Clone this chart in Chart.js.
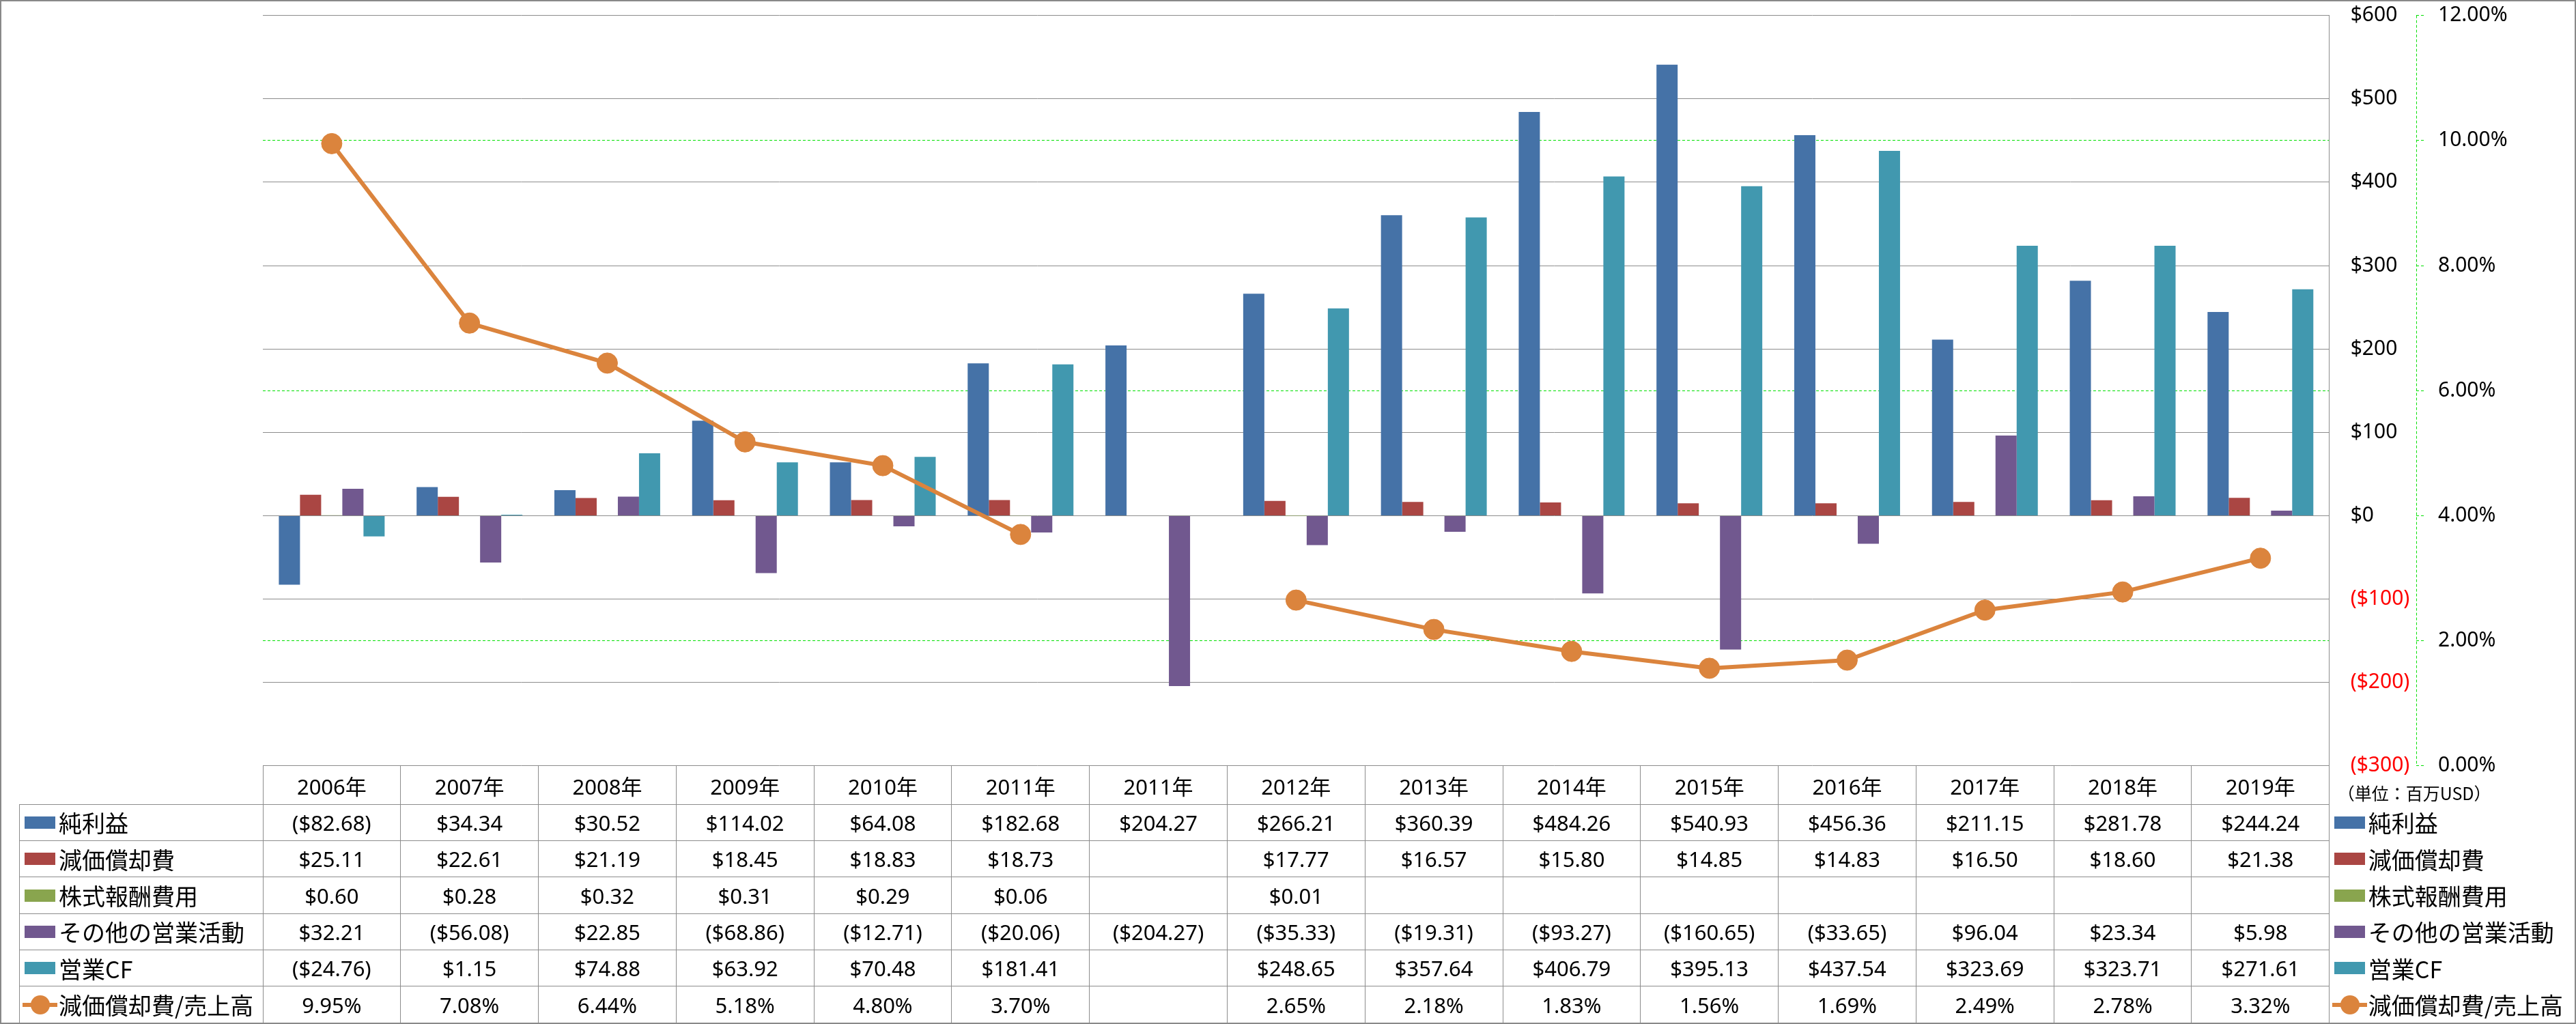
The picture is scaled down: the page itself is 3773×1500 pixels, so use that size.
<!DOCTYPE html>
<html>
<head>
<meta charset="utf-8">
<script src="https://cdn.jsdelivr.net/npm/chart.js@4.4.1/dist/chart.umd.min.js"></script>
<style>
html,body{margin:0;padding:0;background:#fff;}
#wrap{position:relative;width:3773px;height:1500px;overflow:hidden;background:#fff;}
#c{position:absolute;left:0;top:0;}
#overlay{position:absolute;left:0;top:0;width:3773px;height:1500px;pointer-events:none;}
.hl{position:absolute;height:1px;background:#8c8c8c;}
.vl{position:absolute;width:1px;background:#8c8c8c;}
.cell{position:absolute;display:flex;align-items:center;justify-content:center;font-family:'Noto Sans','Noto Sans CJK JP',sans-serif;font-size:31px;color:#000;white-space:nowrap;}
.leg{position:absolute;display:flex;align-items:center;font-family:'Noto Sans CJK JP',sans-serif;font-size:34px;color:#000;white-space:nowrap;}
.sw{position:absolute;}
#frame{position:absolute;left:0;top:0;width:3773px;height:1500px;box-sizing:border-box;border:2px solid #898989;pointer-events:none;}
</style>
</head>
<body>
<div id="wrap">
  <canvas id="c" width="3773" height="1500"></canvas>
  <div id="overlay"></div>
  <div id="frame"></div>
</div>
<script>
// ---- data ----
const categories = ['2006年','2007年','2008年','2009年','2010年','2011年','2011年','2012年','2013年','2014年','2015年','2016年','2017年','2018年','2019年'];
const netIncome    = [-82.68, 34.34, 30.52, 114.02, 64.08, 182.68, 204.27, 266.21, 360.39, 484.26, 540.93, 456.36, 211.15, 281.78, 244.24];
const depreciation = [25.11, 22.61, 21.19, 18.45, 18.83, 18.73, null, 17.77, 16.57, 15.80, 14.85, 14.83, 16.50, 18.60, 21.38];
const stockComp    = [0.60, 0.28, 0.32, 0.31, 0.29, 0.06, null, 0.01, null, null, null, null, null, null, null];
const otherOps     = [32.21, -56.08, 22.85, -68.86, -12.71, -20.06, -204.27, -35.33, -19.31, -93.27, -160.65, -33.65, 96.04, 23.34, 5.98];
const operatingCF  = [-24.76, 1.15, 74.88, 63.92, 70.48, 181.41, null, 248.65, 357.64, 406.79, 395.13, 437.54, 323.69, 323.71, 271.61];
const deprRatio    = [9.95, 7.08, 6.44, 5.18, 4.80, 3.70, null, 2.65, 2.18, 1.83, 1.56, 1.69, 2.49, 2.78, 3.32];

const seriesNames = ['純利益','減価償却費','株式報酬費用','その他の営業活動','営業CF','減価償却費/売上高'];
const unitLabel = '（単位：百万USD）';
const moneyAxis = {min:-300, max:600, step:100};
const pctAxis = {min:0, max:12, step:2};

// ---- styles ----
const C_BLUE='#4572A7', C_RED='#AA4643', C_GREEN='#89A54E', C_PURPLE='#71588F', C_TEAL='#4198AF', C_ORANGE='#DB843D';
const C_GRID='#8c8c8c', C_LIME='#00e000';

function fmtMoney(v){ return v<0 ? '($'+(-v).toFixed(2)+')' : '$'+v.toFixed(2); }
function fmtPct(v){ return v.toFixed(2)+'%'; }
function fmtAxisMoney(v){ return v<0 ? '($'+(-v)+')' : '$'+v; }

const barSeries = [
  {name:seriesNames[0], data:netIncome, color:C_BLUE},
  {name:seriesNames[1], data:depreciation, color:C_RED},
  {name:seriesNames[2], data:stockComp, color:C_GREEN},
  {name:seriesNames[3], data:otherOps, color:C_PURPLE},
  {name:seriesNames[4], data:operatingCF, color:C_TEAL}
];

const axisDash = {
  id:'axisDash',
  afterDraw(chart){
    const s = chart.scales.y1, ctx = chart.ctx;
    ctx.save();
    ctx.strokeStyle = C_LIME; ctx.lineWidth = 1; ctx.setLineDash([4,3]);
    ctx.beginPath(); ctx.moveTo(Math.round(s.left)+0.5, s.top); ctx.lineTo(Math.round(s.left)+0.5, s.bottom); ctx.stroke();
    ctx.restore();
  }
};

const datasets = barSeries.map(s => ({
  type:'bar', label:s.name, data:s.data, backgroundColor:s.color, borderWidth:0, yAxisID:'y', order:1
}));
datasets.push({
  type:'line', label:seriesNames[5], data:deprRatio, yAxisID:'y1', order:0,
  borderColor:C_ORANGE, backgroundColor:C_ORANGE, borderWidth:6, tension:0, spanGaps:false,
  pointRadius:15, pointBackgroundColor:C_ORANGE, pointBorderColor:C_ORANGE, pointBorderWidth:1
});

const axisFont = {family:"'Noto Sans', sans-serif", size:30};

const chart = new Chart(document.getElementById('c'), {
  type:'bar',
  data:{labels:categories, datasets:datasets},
  options:{
    responsive:false, devicePixelRatio:1, animation:false, events:[],
    layout:{padding:{left:385, top:22.6, bottom:378.2, right:0}},
    plugins:{legend:{display:false}, tooltip:{enabled:false}},
    datasets:{bar:{categoryPercentage:0.768, barPercentage:1}},
    scales:{
      x:{display:false, offset:true},
      y:{
        position:'right', weight:0, min:moneyAxis.min, max:moneyAxis.max,
        ticks:{stepSize:moneyAxis.step, padding:31, font:axisFont,
          color:ctx => (ctx.tick && ctx.tick.value<0) ? '#ff0000' : '#000000',
          callback:v => fmtAxisMoney(v)},
        grid:{color:C_GRID, lineWidth:1, drawTicks:false},
        border:{display:true, color:C_GRID, width:1},
        afterFit:s => { s.width = 127.3; s.paddingTop = 0; s.paddingBottom = 0; }
      },
      y1:{
        position:'right', weight:1, min:pctAxis.min, max:pctAxis.max,
        ticks:{stepSize:pctAxis.step, padding:20, font:axisFont, color:'#000000',
          callback:v => fmtPct(v)},
        grid:{
          color:ctx => (ctx.tick && Math.round(ctx.tick.value)%4===0) ? 'rgba(0,0,0,0)' : C_LIME,
          lineWidth:1, drawTicks:true, tickLength:12, tickColor:C_LIME, tickBorderDash:[4,3]
        },
        border:{display:false, dash:[4,3]},
        afterFit:s => { s.width = 234; s.paddingTop = 0; s.paddingBottom = 0; }
      }
    }
  },
  plugins:[axisDash]
});

// ---- data table overlay ----
const tableRows = [
  {name:seriesNames[0], values:netIncome, fmt:fmtMoney, color:C_BLUE, kind:'bar'},
  {name:seriesNames[1], values:depreciation, fmt:fmtMoney, color:C_RED, kind:'bar'},
  {name:seriesNames[2], values:stockComp, fmt:fmtMoney, color:C_GREEN, kind:'bar'},
  {name:seriesNames[3], values:otherOps, fmt:fmtMoney, color:C_PURPLE, kind:'bar'},
  {name:seriesNames[4], values:operatingCF, fmt:fmtMoney, color:C_TEAL, kind:'bar'},
  {name:seriesNames[5], values:deprRatio, fmt:fmtPct, color:C_ORANGE, kind:'line'}
];

function el(cls, css, text){
  const d = document.createElement('div');
  d.className = cls;
  Object.assign(d.style, css);
  if (text != null) d.textContent = text;
  document.getElementById('overlay').appendChild(d);
  return d;
}
function px(v){ return v + 'px'; }

function drawKey(row, x, cy){
  if (row.kind === 'bar') {
    el('sw', {left:px(x), top:px(cy-9), width:'45px', height:'18px', background:row.color});
  } else {
    el('sw', {left:px(x-3), top:px(cy-3), width:'51px', height:'6px', background:row.color});
    el('sw', {left:px(x+22.5-14), top:px(cy-14), width:'28px', height:'28px', borderRadius:'50%', background:row.color});
  }
}

function buildTable(){
  const ca = chart.chartArea;
  const xs = chart.scales.x;
  const n = categories.length;
  const colW = (ca.right - ca.left) / n;
  const headTop = ca.bottom, headH = 56.5, rowH = 53.33;
  const rowsTop = headTop + headH;
  const tableLeft = 28.7;
  const bottom = rowsTop + rowH * tableRows.length;

  for (let i = 0; i <= n; i++) {
    const x = ca.left + i * colW;
    el('vl', {left:px(x-0.5), top:px(headTop), height:px(bottom-headTop)});
  }
  el('vl', {left:px(tableLeft-0.5), top:px(rowsTop), height:px(bottom-rowsTop)});
  for (let k = 0; k <= tableRows.length; k++) {
    const y = rowsTop + k * rowH;
    el('hl', {left:px(tableLeft), top:px(y-0.5), width:px(ca.right-tableLeft)});
  }

  categories.forEach((c, i) => {
    const cx = xs.getPixelForValue(i);
    el('cell', {left:px(cx-colW/2), top:px(headTop), width:px(colW), height:px(headH)}, c);
  });

  tableRows.forEach((r, k) => {
    const top = rowsTop + k * rowH;
    const cy = top + rowH / 2;
    r.values.forEach((v, i) => {
      if (v == null) return;
      const cx = xs.getPixelForValue(i);
      el('cell', {left:px(cx-colW/2), top:px(top), width:px(colW), height:px(rowH)}, r.fmt(v));
    });
    drawKey(r, 36, cy);
    el('leg', {left:'86px', top:px(top), height:px(rowH)}, r.name);
    drawKey(r, ca.right + 7.5, cy);
    el('leg', {left:px(ca.right + 57), top:px(top), height:px(rowH)}, r.name);
  });

  el('leg', {left:px(ca.right + 12), top:px(1161-20), height:'40px', fontSize:'25px'}, unitLabel);
}
buildTable();
</script>
</body>
</html>
